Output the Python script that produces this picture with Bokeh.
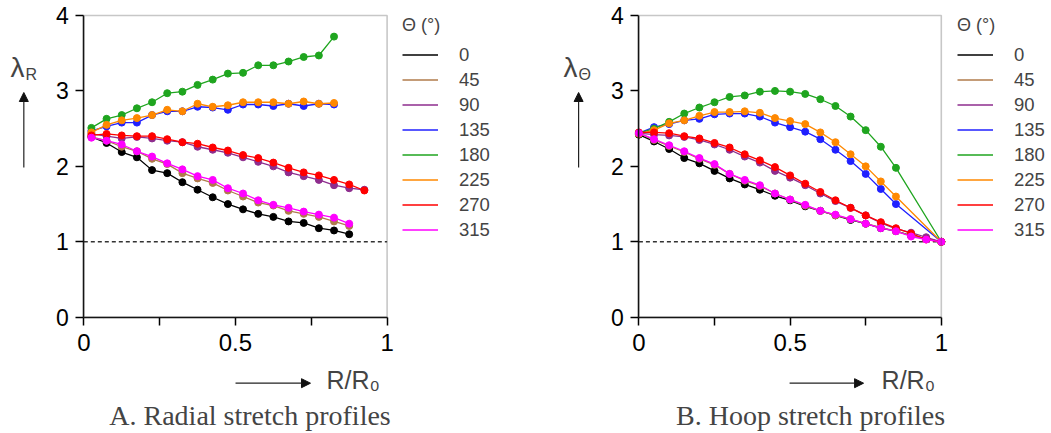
from bokeh.plotting import figure
from bokeh.layouts import row
from bokeh.models import (Range1d, FixedTicker, Label, Arrow, NormalHead,
                          Legend, LegendItem, LinearAxis, BoxAnnotation)
from bokeh.embed import file_html
from bokeh.resources import INLINE

# ---------------- data ----------------
angles = ["0", "45", "90", "135", "180", "225", "270", "315"]
colors = ["#000000", "#b07b4b", "#8e2d8e", "#2020ff", "#1fa51f", "#ff8800", "#ff0000", "#ff00ff"]

# Panel A: radial stretch
xA_17 = [0.025, 0.075, 0.125, 0.175, 0.225, 0.275, 0.325, 0.375, 0.425, 0.475,
         0.525, 0.575, 0.625, 0.675, 0.725, 0.775, 0.825]
xA_18 = xA_17 + [0.875]
xA_19 = xA_18 + [0.925]

rad_0 = [2.39, 2.31, 2.19, 2.12, 1.95, 1.91, 1.79, 1.69, 1.59, 1.50, 1.43, 1.37, 1.33, 1.27, 1.25, 1.18, 1.15, 1.10]
rad_45 = [2.39, 2.34, 2.26, 2.20, 2.10, 2.03, 1.91, 1.84, 1.78, 1.68, 1.60, 1.52, 1.48, 1.41, 1.37, 1.33, 1.27, 1.21]
rad_90 = [2.43, 2.40, 2.37, 2.39, 2.37, 2.34, 2.32, 2.26, 2.22, 2.18, 2.12, 2.06, 2.00, 1.92, 1.87, 1.82, 1.75, 1.71, 1.69]
rad_135 = [2.47, 2.53, 2.58, 2.58, 2.68, 2.73, 2.73, 2.79, 2.78, 2.75, 2.82, 2.82, 2.80, 2.83, 2.80, 2.83, 2.82]
rad_180 = [2.51, 2.63, 2.68, 2.77, 2.85, 2.97, 2.99, 3.08, 3.15, 3.23, 3.24, 3.34, 3.34, 3.39, 3.45, 3.47, 3.72]
rad_225 = [2.45, 2.55, 2.61, 2.64, 2.68, 2.75, 2.73, 2.83, 2.79, 2.81, 2.85, 2.85, 2.85, 2.83, 2.86, 2.83, 2.84]
rad_270 = [2.41, 2.43, 2.41, 2.40, 2.40, 2.36, 2.32, 2.30, 2.25, 2.21, 2.15, 2.11, 2.05, 1.98, 1.92, 1.88, 1.82, 1.76, 1.68]
rad_315 = [2.38, 2.34, 2.29, 2.20, 2.13, 2.04, 1.96, 1.87, 1.82, 1.71, 1.64, 1.55, 1.49, 1.45, 1.40, 1.36, 1.32, 1.24]

xA = [xA_18, xA_18, xA_19, xA_17, xA_17, xA_17, xA_19, xA_18]
yA = [rad_0, rad_45, rad_90, rad_135, rad_180, rad_225, rad_270, rad_315]

# Panel B: hoop stretch
xB_21 = [0.0, 0.05, 0.10, 0.15, 0.20, 0.25, 0.30, 0.35, 0.40, 0.45, 0.50,
         0.55, 0.60, 0.65, 0.70, 0.75, 0.80, 0.85, 0.90, 0.95, 1.0]
xB_19 = [0.0, 0.05, 0.10, 0.15, 0.20, 0.25, 0.30, 0.35, 0.40, 0.45, 0.50,
         0.55, 0.60, 0.65, 0.70, 0.75, 0.80, 0.85, 1.0]

hoop_0 = [2.42, 2.33, 2.23, 2.11, 2.04, 1.94, 1.84, 1.76, 1.69, 1.61, 1.55, 1.47, 1.41, 1.35, 1.29, 1.24, 1.18, 1.14, 1.08, 1.04, 1.00]
hoop_45 = [2.44, 2.35, 2.27, 2.19, 2.10, 2.02, 1.90, 1.81, 1.74, 1.64, 1.56, 1.48, 1.41, 1.35, 1.30, 1.24, 1.19, 1.14, 1.08, 1.04, 1.00]
hoop_90 = [2.44, 2.42, 2.41, 2.39, 2.35, 2.29, 2.22, 2.13, 2.05, 1.94, 1.85, 1.75, 1.64, 1.54, 1.45, 1.35, 1.25, 1.17, 1.12, 1.06, 1.00]
hoop_135 = [2.44, 2.52, 2.56, 2.61, 2.63, 2.69, 2.70, 2.70, 2.66, 2.58, 2.52, 2.46, 2.36, 2.22, 2.07, 1.90, 1.70, 1.50, 1.00]
hoop_180 = [2.44, 2.50, 2.59, 2.70, 2.78, 2.85, 2.92, 2.94, 2.99, 3.00, 2.99, 2.96, 2.89, 2.80, 2.66, 2.48, 2.26, 1.98, 1.00]
hoop_225 = [2.43, 2.48, 2.57, 2.61, 2.67, 2.72, 2.72, 2.73, 2.71, 2.64, 2.60, 2.56, 2.45, 2.32, 2.16, 2.00, 1.80, 1.60, 1.00]
hoop_270 = [2.45, 2.45, 2.44, 2.40, 2.37, 2.31, 2.25, 2.16, 2.08, 1.99, 1.88, 1.77, 1.66, 1.55, 1.45, 1.35, 1.26, 1.18, 1.11, 1.03, 1.00]
hoop_315 = [2.44, 2.36, 2.28, 2.20, 2.11, 2.03, 1.90, 1.82, 1.75, 1.64, 1.56, 1.49, 1.41, 1.36, 1.30, 1.24, 1.18, 1.14, 1.07, 1.03, 1.00]

xB = [xB_21, xB_21, xB_21, xB_19, xB_19, xB_19, xB_21, xB_21]
yB = [hoop_0, hoop_45, hoop_90, hoop_135, hoop_180, hoop_225, hoop_270, hoop_315]

x_ticks = [0, 0.25, 0.5, 0.75, 1]
x_tick_labels = {0: "0", 0.25: "", 0.5: "0.5", 0.75: "", 1: "1"}
y_ticks = [0, 1, 2, 3, 4]
ref_level = 1.0

SANS = "Liberation Sans"
SERIF = "Liberation Serif"
H = 432


def make_panel(xs, ys, W, x_lo, x_hi, sub_text, caption, cap_x,
               lam_x, sub_x, arrow_x, xarrow, rr_x, legend_vx):
    # frame covers the whole canvas; axes are pinned at x=0 / y=0
    p = figure(frame_width=W, frame_height=H, min_border=0,
               x_range=Range1d(x_lo, x_hi), y_range=Range1d(-1.5287, 4.1989),
               x_axis_type=None, y_axis_type=None,
               output_backend="svg", toolbar_location=None,
               background_fill_color="white", border_fill_color="white")
    p.grid.visible = False
    p.outline_line_color = None

    # plot box (top/right edges grey)
    p.add_layout(BoxAnnotation(left=x_ticks[0], right=x_ticks[-1], bottom=y_ticks[0], top=y_ticks[-1],
                               fill_alpha=0, line_color="#444444", line_width=1.6))

    xax = LinearAxis(ticker=FixedTicker(ticks=x_ticks), fixed_location=y_ticks[0],
                     bounds=(x_ticks[0], x_ticks[-1]))
    yax = LinearAxis(ticker=FixedTicker(ticks=y_ticks), fixed_location=x_ticks[0],
                     bounds=(y_ticks[0], y_ticks[-1]))
    for ax, fs in ((xax, "24px"), (yax, "23px")):
        ax.axis_line_width = 1.5
        ax.axis_line_color = "black"
        ax.major_tick_line_width = 1.5
        ax.major_tick_line_color = "black"
        ax.major_tick_out = 8
        ax.major_tick_in = 0
        ax.minor_tick_line_color = None
        ax.major_label_text_font = SANS
        ax.major_label_text_font_size = fs
        ax.major_label_text_color = "black"
    xax.major_label_overrides = x_tick_labels
    xax.major_label_standoff = 9
    yax.major_label_standoff = 7
    p.add_layout(xax, "below")
    p.add_layout(yax, "left")

    # dashed reference line lambda = 1
    p.line([x_ticks[0], x_ticks[-1]], [ref_level, ref_level], line_color="#333333",
           line_width=1.3, line_dash="4 3")

    items = []
    for x, y, c, a in zip(xs, ys, colors, angles):
        ln = p.line(x, y, line_color=c, line_width=1.3)
        p.scatter(x, y, size=7, fill_color=c, line_color=c, marker="circle")
        items.append(LegendItem(label=a, renderers=[ln]))

    legend = Legend(items=items, location=(legend_vx, 190), title="Θ (°)",
                    glyph_width=36, glyph_height=25, label_height=25, spacing=0,
                    label_standoff=21, padding=0, margin=0,
                    border_line_alpha=0, background_fill_alpha=0,
                    label_text_font=SANS, label_text_font_size="18.5px",
                    title_text_font=SANS, title_text_font_size="18px",
                    title_text_font_style="normal", title_standoff=6)
    p.add_layout(legend)

    # y label: lambda with subscript and upward arrow
    p.add_layout(Label(x=lam_x, y=3.31, text="λ", text_font=SANS, text_font_size="28px",
                       text_align="left", text_baseline="alphabetic"))
    p.add_layout(Label(x=sub_x, y=3.215, text=sub_text, text_font=SANS, text_font_size="16px",
                       text_align="left", text_baseline="alphabetic"))
    p.add_layout(Arrow(x_start=arrow_x, y_start=1.985, x_end=arrow_x, y_end=2.979,
                       line_color="#222222", line_width=1.2,
                       end=NormalHead(size=9, fill_color="#111111", line_color="#111111")))
    # x label: arrow and R/R0
    p.add_layout(Arrow(x_start=xarrow[0], y_start=-0.875, x_end=xarrow[1], y_end=-0.875,
                       line_color="#222222", line_width=1.2,
                       end=NormalHead(size=9, fill_color="#111111", line_color="#111111")))
    p.add_layout(Label(x=rr_x, y=-0.836, text="R/R₀", text_font=SANS, text_font_size="25px",
                       text_align="left", text_baseline="alphabetic"))
    # caption
    p.add_layout(Label(x=cap_x, y=-1.299, text=caption, text_font=SERIF, text_font_size="28px",
                       text_align="center", text_baseline="alphabetic"))
    return p


pA = make_panel(xA, yA, 525, -0.2747, 1.4563, "R", "A. Radial stretch profiles", 0.548,
                -0.2417, -0.1922, -0.1978, (0.5002, 0.7474), 0.800, 402)
pB = make_panel(xB, yB, 525, -0.3750, 1.3611, "Θ", "B. Hoop stretch profiles", 0.5678,
                -0.249, -0.1994, -0.1994, (0.4983, 0.743), 0.8026, 432)

layout = row(pA, pB)
open("out.html", "w").write(file_html(layout, INLINE))
